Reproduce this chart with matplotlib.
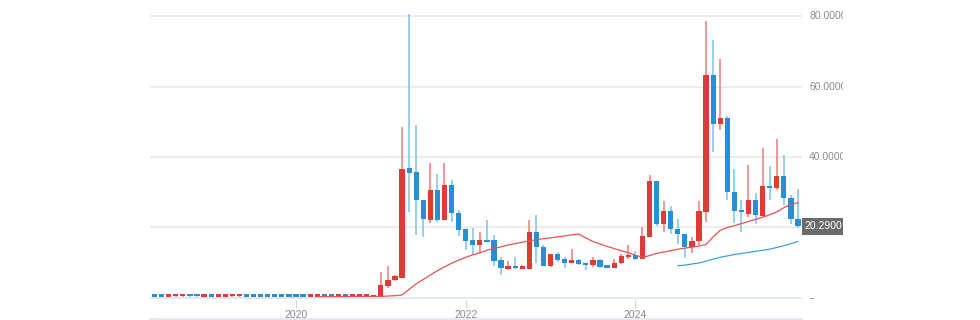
import matplotlib
matplotlib.use("Agg")
import matplotlib.pyplot as plt
import numpy as np
from matplotlib.transforms import Bbox, TransformedBbox
from matplotlib.patches import Rectangle
from matplotlib.lines import Line2D

# ---------------- data (monthly candles, x = months since Jan 2020) ----------------
months = list(range(-20, 72))  # May 2018 .. Dec 2025

opens = [0.55, 0.55, 0.35, 0.40, 0.60, 0.60, 0.55, 0.35, 0.55, 0.35, 0.35, 0.40, 0.40, 0.55, 0.55, 0.55,
         0.55, 0.55, 0.55, 0.55, 0.55, 0.55, 0.35, 0.35, 0.55, 0.55, 0.35, 0.55, 0.35, 0.35, 0.35, 0.30,
         0.3, 3.3, 5.0, 5.7, 36.9, 35.7, 27.9, 22.0, 30.5, 22.0, 32.0, 24.1,
         19.5, 16.3, 14.9, 16.5, 16.3, 10.85, 8.3, 8.95, 8.3, 8.3, 18.7, 14.4,
         8.95, 12.36, 10.9, 9.9, 10.65, 9.7, 9.4, 10.85, 8.9, 8.6, 10.0, 11.6,
         12.3, 11.0, 17.2, 33.2, 21.0, 24.7, 19.65, 18.2, 14.4, 16.1, 24.4, 63.2,
         49.5, 51.2, 30.1, 24.9, 23.9, 27.7, 23.15, 31.7, 31.3, 34.6, 28.4, 22.5]

closes = [0.35, 0.35, 0.55, 0.60, 0.95, 0.40, 0.40, 0.55, 0.35, 0.55, 0.55, 0.60, 0.60, 0.35, 0.35, 0.35,
          0.35, 0.35, 0.35, 0.35, 0.35, 0.35, 0.55, 0.55, 0.35, 0.35, 0.55, 0.35, 0.55, 0.55, 0.55, 0.50,
          3.55, 4.97, 6.1, 36.7, 35.5, 27.7, 22.5, 30.5, 22.0, 32.0, 24.1, 19.4,
          16.1, 14.9, 16.5, 15.9, 10.5, 8.6, 8.95, 8.4, 8.7, 18.7, 14.4, 8.95,
          12.36, 10.65, 9.9, 10.85, 9.7, 9.4, 10.85, 8.75, 8.6, 10.0, 11.8, 12.3,
          11.0, 17.5, 33.2, 21.0, 24.7, 19.65, 18.2, 14.4, 16.1, 24.7, 63.2, 49.5,
          51.2, 30.1, 24.7, 24.3, 27.7, 23.4, 31.7, 31.2, 34.6, 28.4, 22.5, 20.29]

highs = [0.6, 0.6, 0.6, 0.65, 1.0, 0.65, 0.6, 0.6, 0.6, 0.6, 0.6, 0.65, 0.65, 0.6, 0.6, 0.6,
         0.6, 0.6, 0.6, 0.6, 0.6, 0.6, 0.6, 0.6, 0.6, 0.6, 0.6, 0.6, 0.6, 0.6, 0.6, 0.6,
         7.3, 9.0, 6.6, 48.5, 82.0, 49.0, 27.9, 38.3, 35.1, 38.3, 33.4, 24.9,
         19.5, 19.7, 18.7, 22.0, 17.75, 11.6, 10.5, 11.6, 9.2, 22.0, 23.4, 14.9,
         12.4, 13.0, 11.6, 14.0, 11.1, 9.7, 11.6, 11.1, 8.9, 11.1, 12.55, 15.0,
         13.3, 20.0, 34.8, 33.2, 27.4, 26.0, 22.5, 18.2, 17.3, 27.4, 78.8, 73.3,
         67.9, 51.8, 36.7, 27.7, 37.8, 29.9, 42.6, 37.45, 45.2, 40.7, 29.1, 31.0]

lows = [0.3, 0.3, 0.3, 0.3, 0.3, 0.3, 0.3, 0.3, 0.3, 0.3, 0.3, 0.3, 0.3, 0.3, 0.3, 0.3,
        0.3, 0.3, 0.3, 0.3, 0.3, 0.3, 0.3, 0.3, 0.3, 0.3, 0.3, 0.3, 0.3, 0.3, 0.3, 0.3,
        0.2, 2.9, 4.8, 5.7, 24.4, 17.8, 17.3, 21.25, 21.5, 22.0, 21.5, 17.5,
        13.7, 12.1, 12.7, 15.9, 8.95, 6.4, 8.0, 8.2, 8.1, 8.3, 9.9, 8.95,
        8.7, 10.2, 8.6, 9.9, 9.2, 7.8, 8.75, 8.5, 8.6, 8.6, 9.7, 11.0,
        10.7, 11.0, 17.2, 20.3, 18.7, 18.2, 15.4, 11.4, 12.6, 14.9, 21.5, 41.4,
        47.6, 27.7, 21.3, 18.7, 22.95, 20.9, 23.15, 27.7, 30.5, 26.3, 20.9, 19.9]

# moving-average lines
ma_red_months = list(range(3, 72))
ma_red = [0.35, 0.35, 0.35, 0.35, 0.35, 0.4, 0.4, 0.4, 0.4, 0.4, 0.5,
          0.6, 0.8, 2.4, 4.0, 5.2, 6.5, 7.7, 8.8, 9.8, 10.7, 11.5, 12.2, 12.8, 13.5, 14.0,
          14.5, 15.0, 15.4, 15.8, 16.2, 16.5, 16.8, 17.0, 17.3, 17.6, 17.9, 18.1, 17.0, 16.0,
          15.3, 14.6, 14.0, 13.4, 12.8, 12.1, 11.5, 12.0, 12.6, 13.0, 13.4, 13.8, 14.1, 14.4,
          14.7, 15.2, 17.3, 19.2, 20.0, 20.5, 21.1, 21.7, 22.3, 22.9, 23.6, 24.4, 25.6, 26.6, 27.0]

ma_blue_months = list(range(54, 72))
ma_blue = [9.1, 9.3, 9.6, 9.9, 10.4, 11.0, 11.5, 11.9, 12.3, 12.6, 12.9, 13.2, 13.5, 13.8,
           14.3, 14.8, 15.4, 16.0]

year_ticks = [0, 24, 48]
year_labels = ["2020", "2022", "2024"]
y_levels = [0, 20, 40, 60, 80]
y_labels = ["--", "20.0000", "40.0000", "60.0000", "80.0000"]
last_price_label = "20.2900"

# ---------------- figure ----------------
W, H = 980, 320
fig = plt.figure(figsize=(W / 100, H / 100), dpi=100)
fig.patch.set_facecolor("white")

L, R, T, B = 150, 802, 14, 300
ax = fig.add_axes([L / W, 1 - B / H, (R - L) / W, (B - T) / H])
ppu = 3.519  # pixels per unit
ax.set_ylim(-(B - 297.8) / ppu, (297.8 - T) / ppu)
mpp = 7.07  # pixels per month
ax.set_xlim(-(296 - L) / mpp, (R - 296) / mpp)
for s in ax.spines.values():
    s.set_visible(False)

RED = "#dd3b36"
BLUE = "#2590d8"
RED_W = "#ec7b78"
BLUE_W = "#7fc0ea"

for v in y_levels[1:]:
    ax.axhline(v, color="#ebebeb", lw=1.3, zorder=0)
ax.axhline(0, color="#dde4f0", lw=1.2, zorder=0)

m = np.array(months, dtype=float)
o = np.array(opens); c = np.array(closes); h = np.array(highs); lo = np.array(lows)
up = c >= o
body_bot = np.minimum(o, c)
body_h = np.maximum(np.abs(c - o), 0.6)
wick_cols = [RED_W if u else BLUE_W for u in up]
body_cols = [RED if u else BLUE for u in up]
ax.vlines(m, lo, h, colors=wick_cols, lw=1.1, zorder=2)
ax.bar(m, body_h, bottom=body_bot, width=0.74, color=body_cols, linewidth=0, zorder=3)

ax.plot(ma_red_months, ma_red, color="#e8534f", lw=0.9, zorder=4)
ax.plot(ma_blue_months, ma_blue, color="#3d9fe2", lw=0.9, zorder=4)

ax.set_yticks([])
ax.set_xticks(year_ticks)
ax.set_xticklabels(year_labels, fontfamily="Liberation Sans")
ax.tick_params(axis="x", direction="out", length=6, width=0.8, color="#cdd5e2",
               labelsize=7.5, labelcolor="#8a8a8a", pad=1.5)

# bottom border line
fig.add_artist(Line2D([L / W, R / W], [1 - 319 / H] * 2, color="#dfe4ee", lw=1.2))

# right-side labels, clipped at container edge
clip = TransformedBbox(Bbox([[0, 0], [843 / W, 1]]), fig.transFigure)
to_fig = fig.transFigure.inverted()
for v, lab in zip(y_levels, y_labels):
    if v == 20:
        continue
    yd = ax.transData.transform((0, v))[1]
    yf = to_fig.transform((0, yd))[1]
    t = fig.text(809 / W, yf, lab, fontsize=7.5, color="#8c8c99", va="center", ha="left",
                 family="Liberation Sans")
    t.set_clip_box(clip)
    t.set_clip_on(True)

yd = ax.transData.transform((0, closes[-1]))[1]
yf = to_fig.transform((0, yd))[1]
box = Rectangle((801.5 / W, yf - 8.5 / H), 45 / W, 17 / H, transform=fig.transFigure,
                facecolor="#6b6b6b", edgecolor="none", zorder=5)
fig.add_artist(box)
box.set_clip_box(clip)
box.set_clip_on(True)
t = fig.text(804 / W, yf, last_price_label, fontsize=7.5, color="white", va="center", ha="left",
             family="Liberation Sans", zorder=6)
t.set_clip_box(clip)
t.set_clip_on(True)

fig.savefig("out.png", dpi=100, facecolor="white")
